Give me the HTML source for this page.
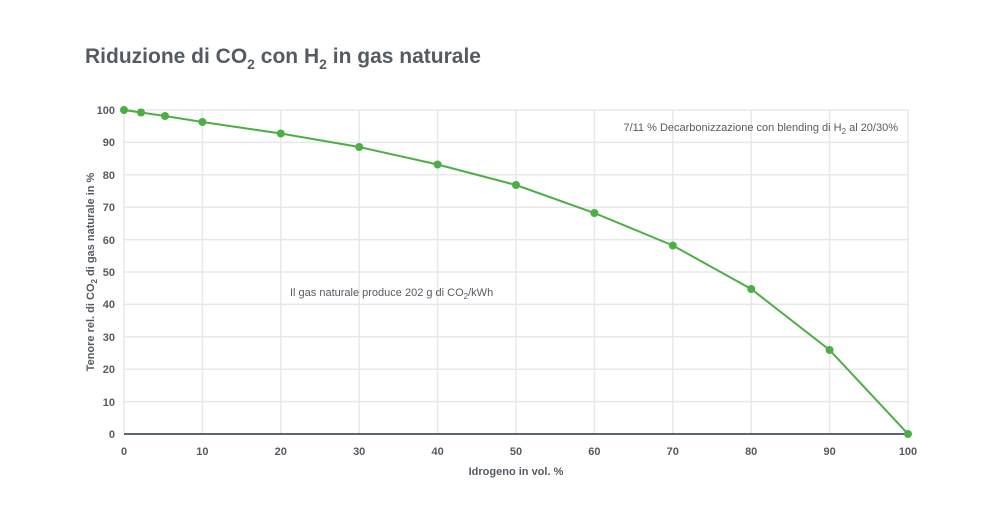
<!DOCTYPE html>
<html><head><meta charset="utf-8"><style>
body{margin:0;background:#fff;width:1000px;height:503px;overflow:hidden}
text{font-family:"Liberation Sans",sans-serif;fill:#555b63}
</style></head><body>
<svg width="1000" height="503" viewBox="0 0 1000 503" xmlns="http://www.w3.org/2000/svg">
<text x="85" y="63" font-size="21" font-weight="bold" fill="#5d636b">Riduzione di CO<tspan font-size="14" dy="6">2</tspan><tspan dy="-6"> con H</tspan><tspan font-size="14" dy="6">2</tspan><tspan dy="-6"> in gas naturale</tspan></text>
<g stroke="#e8e8e8" stroke-width="1.5">
<line x1="124" x2="908" y1="110" y2="110"/><line x1="124" x2="908" y1="142.4" y2="142.4"/><line x1="124" x2="908" y1="174.8" y2="174.8"/><line x1="124" x2="908" y1="207.2" y2="207.2"/><line x1="124" x2="908" y1="239.6" y2="239.6"/><line x1="124" x2="908" y1="272" y2="272"/><line x1="124" x2="908" y1="304.4" y2="304.4"/><line x1="124" x2="908" y1="336.8" y2="336.8"/><line x1="124" x2="908" y1="369.2" y2="369.2"/><line x1="124" x2="908" y1="401.6" y2="401.6"/>
<line x1="124" x2="124" y1="110" y2="434"/><line x1="202.4" x2="202.4" y1="110" y2="434"/><line x1="280.8" x2="280.8" y1="110" y2="434"/><line x1="359.2" x2="359.2" y1="110" y2="434"/><line x1="437.6" x2="437.6" y1="110" y2="434"/><line x1="516" x2="516" y1="110" y2="434"/><line x1="594.4" x2="594.4" y1="110" y2="434"/><line x1="672.8" x2="672.8" y1="110" y2="434"/><line x1="751.2" x2="751.2" y1="110" y2="434"/><line x1="829.6" x2="829.6" y1="110" y2="434"/><line x1="908" x2="908" y1="110" y2="434"/>
</g>
<line x1="124" x2="908" y1="434" y2="434" stroke="#5d6670" stroke-width="2"/>
<g font-size="11" font-weight="bold" text-anchor="end">
<text x="115" y="114">100</text><text x="115" y="146">90</text><text x="115" y="179">80</text><text x="115" y="211">70</text><text x="115" y="244">60</text><text x="115" y="276">50</text><text x="115" y="308">40</text><text x="115" y="341">30</text><text x="115" y="373">20</text><text x="115" y="406">10</text><text x="115" y="438">0</text>
</g>
<g font-size="11" font-weight="bold" text-anchor="middle">
<text x="124" y="455">0</text><text x="202.4" y="455">10</text><text x="280.8" y="455">20</text><text x="359.2" y="455">30</text><text x="437.6" y="455">40</text><text x="516" y="455">50</text><text x="594.4" y="455">60</text><text x="672.8" y="455">70</text><text x="751.2" y="455">80</text><text x="829.6" y="455">90</text><text x="908" y="455">100</text>
</g>
<text x="516" y="475" font-size="11" font-weight="bold" text-anchor="middle">Idrogeno in vol. %</text>
<text transform="translate(94,272) rotate(-90)" font-size="11" font-weight="bold" text-anchor="middle">Tenore rel. di CO<tspan font-size="8" dy="3">2</tspan><tspan dy="-3"> di gas naturale in %</tspan></text>
<text x="290" y="296" font-size="11">Il gas naturale produce 202 g di CO<tspan font-size="8" dy="3">2</tspan><tspan dy="-3">/kWh</tspan></text>
<text x="898" y="131" font-size="11" text-anchor="end">7/11 % Decarbonizzazione con blending di H<tspan font-size="8" dy="3">2</tspan><tspan dy="-3"> al 20/30%</tspan></text>
<polyline fill="none" stroke="#4caf45" stroke-width="2" points="124,110 141,112.5 165,116 202.4,122 280.8,133.5 359.2,147 437.6,164.5 516,185 594.4,213 672.8,245.5 751.2,289 829.6,350 908,434"/>
<g fill="#4caf45">
<circle cx="124" cy="110" r="4"/><circle cx="141" cy="112.5" r="4"/><circle cx="165" cy="116" r="4"/><circle cx="202.4" cy="122" r="4"/><circle cx="280.8" cy="133.5" r="4"/><circle cx="359.2" cy="147" r="4"/><circle cx="437.6" cy="164.5" r="4"/><circle cx="516" cy="185" r="4"/><circle cx="594.4" cy="213" r="4"/><circle cx="672.8" cy="245.5" r="4"/><circle cx="751.2" cy="289" r="4"/><circle cx="829.6" cy="350" r="4"/><circle cx="908" cy="434" r="4"/>
</g>
</svg>
</body></html>
